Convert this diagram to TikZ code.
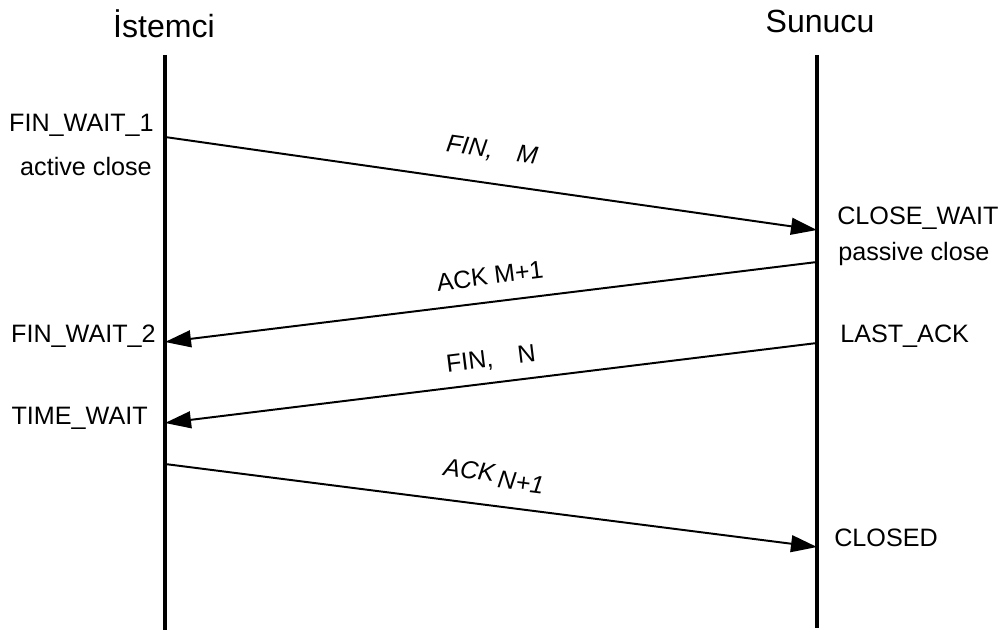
\documentclass[tikz,border=0pt]{standalone}
\usepackage{fontspec}
\setmainfont{Liberation Sans}
\usetikzlibrary{arrows.meta}
\begin{document}
\begin{tikzpicture}[x=0.025cm,y=-0.025cm,
  lifeline/.style={line width=2.2pt},
  msg/.style={line width=1.4pt,-{Triangle[length=0.65cm,width=0.42cm]}},
  statelbl/.style={font=\fontsize{17.9}{21}\selectfont, inner sep=0pt},
  headlbl/.style={font=\fontsize{22.8}{27}\selectfont, inner sep=0pt, anchor=base},
  msglbl/.style={font=\fontsize{17.7}{21}\selectfont, inner sep=0pt}]
\useasboundingbox (0,0) rectangle (1008,630);
% lifelines
\coordinate (L0) at (165,55);
\coordinate (L1) at (165,630);
\coordinate (R0) at (817,55);
\coordinate (R1) at (817,628);
\draw[lifeline] (L0) -- (L1);
\draw[lifeline] (R0) -- (R1);
% headers
\node[headlbl] (ist) at (164,38) {İstemci};
\node[headlbl] (sun) at (820,33) {Sunucu};
% message end points
\coordinate (a1) at (165,137);
\coordinate (b1) at (817,230);
\coordinate (b2) at (817,262);
\coordinate (a2) at (165,342);
\coordinate (b3) at (817,343);
\coordinate (a3) at (165,423);
\coordinate (a4) at (165,464);
\coordinate (b4) at (817,547);
\draw[msg] (a1) -- (b1);
\draw[msg] (b2) -- (a2);
\draw[msg] (b3) -- (a3);
\draw[msg] (a4) -- (b4);
% message labels
\node[msglbl, rotate=-8.1] (m1) at (492,151) {\itshape FIN,\hspace{0.6cm}M};
\node[msglbl, rotate=7] (m2) at (490,276) {ACK M+1};
\node[msglbl, rotate=7] (m3) at (491,360) {FIN,\hspace{0.62cm}N};
\node[msglbl, rotate=-7.3] (m4) at (494,476) {\itshape ACK\,\raisebox{-0.14cm}{N+1}};
% client states
\node[statelbl, anchor=base east] (s1) at (154,132) {FIN\_WAIT\_1};
\node[statelbl, anchor=base east] (s2) at (152,176) {active close};
\node[statelbl, anchor=base east] (s3) at (156,343) {FIN\_WAIT\_2};
\node[statelbl, anchor=base east] (s4) at (148,424) {TIME\_WAIT};
% server states
\node[statelbl, anchor=base west] (t1) at (837,225) {CLOSE\_WAIT};
\node[statelbl, anchor=base west] (t2) at (838,261) {passive close};
\node[statelbl, anchor=base west] (t3) at (840,343) {LAST\_ACK};
\node[statelbl, anchor=base west] (t4) at (834,546) {CLOSED};
\end{tikzpicture}
\end{document}
